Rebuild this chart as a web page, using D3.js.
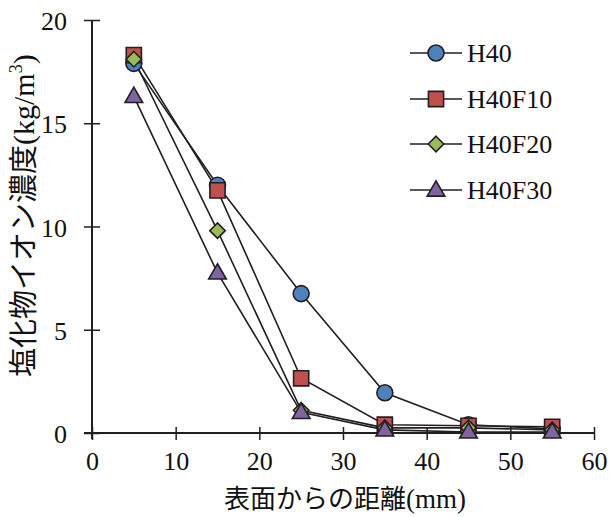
<!DOCTYPE html>
<html><head><meta charset="utf-8">
<script src="https://cdn.jsdelivr.net/npm/d3@7"></script>
<style>body{margin:0;background:#fff}svg{display:block}</style>
</head><body>
<script>
const distances = [5, 15, 25, 35, 45, 55];
const seriesNames = ["H40", "H40F10", "H40F20", "H40F30"];
const h40 = [17.9, 12.0, 6.75, 1.95, 0.4, 0.2];
const h40f10 = [18.3, 11.75, 2.65, 0.4, 0.35, 0.3];
const h40f20 = [18.1, 9.8, 1.1, 0.25, 0.25, 0.15];
const h40f30 = [16.3, 7.75, 1.0, 0.15, 0.05, 0.05];
const xTicks = [0, 10, 20, 30, 40, 50, 60];
const yTicks = [0, 5, 10, 15, 20];
const colors = ["#4f81bd", "#c0504d", "#9bbb59", "#8064a2"];

const diamond = { draw(ctx, size) { const r = Math.sqrt(size / 2); ctx.moveTo(0, -r); ctx.lineTo(r, 0); ctx.lineTo(0, r); ctx.lineTo(-r, 0); ctx.closePath(); } };
const shapes = [d3.symbolCircle, d3.symbolSquare, diamond, d3.symbolTriangle];
const symSizes = [200, 230, 120, 135];
const values = [h40, h40f10, h40f20, h40f30];

const W = 616, H = 517;
const svg = d3.select("body").append("svg").attr("width", W).attr("height", H);
const x = d3.scaleLinear().domain([0, 60]).range([92, 594]);
const y = d3.scaleLinear().domain([0, 20]).range([433, 20]);
const ink = "#231f20";
const serif = '"Liberation Serif", "Times New Roman", serif';
const cjk = '"Noto Sans CJK JP", sans-serif';

// axes
const gx = svg.append("g").attr("transform", `translate(0,${y(0)})`)
  .call(d3.axisBottom(x).tickValues(xTicks).tickSize(7).tickSizeOuter(0).tickPadding(12));
gx.selectAll(".tick line").attr("y1", -6);
const gy = svg.append("g").attr("transform", `translate(${x(0)},0)`)
  .call(d3.axisLeft(y).tickValues(yTicks).tickSize(8).tickSizeOuter(0).tickPadding(17));
gy.selectAll(".tick line").attr("x1", 8).attr("x2", -8);
gy.selectAll(".tick text").attr("dy", "0.37em");
[gx, gy].forEach(g => {
  g.attr("font-family", null).attr("font-size", null);
  g.select(".domain").attr("stroke", ink).attr("stroke-width", 2);
  g.selectAll(".tick line").attr("stroke", ink).attr("stroke-width", 1.5);
  g.selectAll(".tick text").style("font-family", serif).style("font-size", "26px").attr("fill", "#111");
});
gx.select(".domain").attr("d", `M${x(0)-8},0H${x(60)}`);
gy.select(".domain").attr("d", `M0,${y(0)+6}V${y(20)}`);

// lines and markers
const line = d3.line().x((d, i) => x(distances[i])).y(d => y(d));
values.forEach((vals, s) => {
  svg.append("path").datum(vals).attr("d", line).attr("fill", "none")
    .attr("stroke", ink).attr("stroke-width", 1.6);
});
values.forEach((vals, s) => {
  svg.append("g").selectAll("path").data(vals).join("path")
    .attr("transform", (d, i) => `translate(${x(distances[i])},${y(d) + (s === 3 ? 1 : 0)})`)
    .attr("d", d3.symbol().type(shapes[s]).size(symSizes[s]))
    .attr("fill", colors[s]).attr("stroke", ink).attr("stroke-width", 1.6);
});

// legend
const legendY = [53, 99, 144, 190];
seriesNames.forEach((name, s) => {
  const g = svg.append("g").attr("transform", `translate(0,${legendY[s]})`);
  g.append("line").attr("x1", 410).attr("x2", 462).attr("stroke", ink).attr("stroke-width", 1.6);
  g.append("path").attr("transform", `translate(436,${s === 3 ? 1 : 0})`)
    .attr("d", d3.symbol().type(shapes[s]).size(symSizes[s]))
    .attr("fill", colors[s]).attr("stroke", ink).attr("stroke-width", 1.6);
  g.append("text").attr("x", 467).attr("y", 9).style("font-family", serif)
    .style("font-size", "26px").attr("fill", "#111").text(name);
});

// axis titles
const xt = svg.append("text").attr("x", 224).attr("y", 508).attr("fill", "#111");
xt.append("tspan").style("font-family", cjk).style("font-size", "26px").text("表面からの距離");
xt.append("tspan").style("font-family", serif).style("font-size", "27px").text("(mm)");

const yt = svg.append("text").attr("transform", "translate(34,377) rotate(-90)").attr("fill", "#111");
yt.append("tspan").style("font-family", cjk).style("font-size", "29px").text("塩化物イオン濃度");
yt.append("tspan").style("font-family", serif).style("font-size", "30px").text("(kg/m");
yt.append("tspan").style("font-family", serif).style("font-size", "18px").attr("dy", -12).text("3");
yt.append("tspan").style("font-family", serif).style("font-size", "30px").attr("dy", 12).text(")");
</script>
</body></html>
